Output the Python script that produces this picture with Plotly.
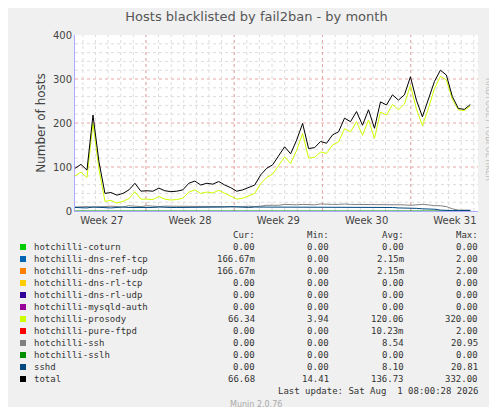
import pandas as pd
import plotly.graph_objects as go

total = [97, 106, 93, 218, 112, 40, 42, 36, 40, 48, 63, 45, 46, 45, 52, 46, 44, 45, 48, 63,
         68, 59, 63, 61, 67, 59, 53, 45, 48, 53, 59, 82, 97, 105, 127, 146, 130, 161, 199, 142,
         144, 158, 154, 173, 180, 211, 203, 226, 195, 230, 188, 248, 241, 264, 252, 264, 305, 252, 214, 252,
         294, 320, 309, 260, 233, 231, 242]
prosody = [80, 88, 76, 200, 95, 22, 24, 18, 22, 28, 44, 27, 27, 26, 33, 27, 25, 26, 29, 43,
           48, 40, 43, 41, 47, 40, 34, 27, 29, 34, 40, 62, 76, 84, 105, 123, 108, 138, 176, 120,
           122, 134, 131, 150, 157, 187, 180, 203, 172, 207, 165, 225, 218, 242, 230, 243, 286, 232, 194, 233,
           278, 306, 298, 254, 230, 228, 239]
sshd = [8, 8, 7, 9, 8, 8, 7, 8, 9, 8, 8, 8, 7, 8, 9, 8, 8, 8, 8, 9,
        9, 8, 9, 9, 9, 9, 10, 9, 9, 8, 9, 9, 8, 8, 9, 8, 8, 9, 8, 8,
        8, 8, 8, 8, 8, 8, 8, 8, 8, 8, 8, 8, 8, 8, 7, 7, 6, 6, 5, 5,
        4, 2, 1, 1, 1, 1, 1]
ssh = [9, 10, 10, 9, 9, 10, 11, 10, 9, 12, 11, 10, 12, 11, 10, 11, 11, 11, 11, 11,
       11, 11, 11, 11, 11, 10, 9, 9, 10, 11, 10, 11, 13, 13, 13, 15, 14, 14, 15, 14,
       14, 16, 15, 15, 15, 16, 15, 15, 15, 15, 15, 15, 15, 14, 15, 14, 13, 14, 15, 14,
       12, 12, 10, 5, 2, 2, 2]

names = ["hotchilli-coturn", "hotchilli-dns-ref-tcp", "hotchilli-dns-ref-udp", "hotchilli-dns-rl-tcp",
         "hotchilli-dns-rl-udp", "hotchilli-mysqld-auth", "hotchilli-prosody", "hotchilli-pure-ftpd",
         "hotchilli-ssh", "hotchilli-sslh", "sshd", "total"]
colors = ["#00CC00", "#0066B3", "#FF8000", "#FFCC00", "#330099", "#990099", "#CCFF00", "#FF0000",
          "#808080", "#008F00", "#00487D", "#000000"]
cur = ["0.00", "166.67m", "166.67m", "0.00", "0.00", "0.00", "66.34", "0.00", "0.00", "0.00", "0.00", "66.68"]
mins = ["0.00", "0.00", "0.00", "0.00", "0.00", "0.00", "3.94", "0.00", "0.00", "0.00", "0.00", "14.41"]
avgs = ["0.00", "2.15m", "2.15m", "0.00", "0.00", "0.00", "120.06", "10.23m", "8.54", "0.00", "8.10", "136.73"]
maxs = ["0.00", "2.00", "2.00", "0.00", "0.00", "0.00", "320.00", "2.00", "20.95", "0.00", "20.81", "332.00"]
week_labels = ["Week 27", "Week 28", "Week 29", "Week 30", "Week 31"]

t = pd.date_range("2026-06-30 09:00", periods=len(total), freq="684min")
zero = [0] * len(total)

fig = go.Figure()
for s, c in [(zero, "#008F00"), (ssh, "#808080"), (sshd, "#00487D"), (prosody, "#CCFF00"), (total, "#000000")]:
    fig.add_trace(go.Scatter(x=t, y=s, mode="lines", line=dict(color=c, width=1), showlegend=False))

mondays = pd.date_range("2026-06-29", periods=6, freq="7D")
for d in pd.date_range("2026-07-01", "2026-08-01", freq="1D"):
    fig.add_shape(type="line", x0=d, x1=d, y0=0, y1=400, xref="x", yref="y",
                  line=dict(color="#DDDDDD", width=1, dash="dot"), layer="below")
for d in mondays[1:5]:
    fig.add_shape(type="line", x0=d, x1=d, y0=0, y1=400, xref="x", yref="y",
                  line=dict(color="#EBA5A5", width=1, dash="dot"), layer="below")
for v in range(20, 400, 20):
    c = "#EBA5A5" if v % 100 == 0 else "#DDDDDD"
    fig.add_shape(type="line", x0=0, x1=1, y0=v, y1=v, xref="paper", yref="y",
                  line=dict(color=c, width=1, dash="dot"), layer="below")

mono = dict(family="DejaVu Sans Mono", size=9, color="#333333")
def txt(x, y, s, anchor="left", font=mono):
    fig.add_annotation(x=x, y=y, xref="paper", yref="paper", text=s, showarrow=False,
                       xanchor=anchor, yanchor="middle", font=font)

def px(x, y):
    return (x - 67) / 403, (203 - y) / 176

for i, n in enumerate(names):
    yy = 239 + 12 * i
    fig.add_shape(type="rect", x0=px(12, yy - 3)[0], x1=px(18, yy + 3)[0], y0=px(12, yy - 3)[1],
                  y1=px(12, yy + 3)[1], xref="paper", yref="paper", fillcolor=colors[i],
                  line=dict(width=0))
    txt(*px(24, yy), n)
    for col, xr in [(cur, 249), (mins, 323), (avgs, 398), (maxs, 472)]:
        txt(*px(xr, yy), col[i], "right")
for h, xr in [("Cur:", 249), ("Min:", 323), ("Avg:", 398), ("Max:", 472)]:
    txt(*px(xr, 227), h, "right")
txt(*px(472, 383), "Last update: Sat Aug  1 08:00:28 2026", "right")
txt(*px(248, 396), "Munin 2.0.76", "center", dict(family="DejaVu Sans", size=8, color="#AAAAAA"))
fig.add_annotation(x=px(487, 0)[0], y=px(0, 68)[1], xref="paper", yref="paper",
                   text="RRDTOOL / TOBI OETIKER", textangle=90, showarrow=False,
                   font=dict(family="DejaVu Sans", size=8, color="#BBBBBB"))

fig.update_layout(
    width=497, height=407, margin=dict(l=67, r=27, t=27, b=204, autoexpand=False),
    paper_bgcolor="#F0F0F0", plot_bgcolor="#FFFFFF",
    title=dict(text="Hosts blacklisted by fail2ban - by month", x=0.5, y=0.99, yanchor="top",
               font=dict(family="DejaVu Sans", size=13, color="#555555")),
    font=dict(family="DejaVu Sans", size=10, color="#444444"),
    xaxis=dict(range=["2026-06-30 09:00", "2026-08-01 08:00"], showgrid=False, zeroline=False,
               tickvals=mondays[:5] + pd.Timedelta("3.5D"), ticktext=week_labels, ticks="",
               showline=True, linecolor="#AAAAFF", automargin=False),
    yaxis=dict(range=[0, 400], tickvals=[0, 100, 200, 300, 400], showgrid=False, zeroline=False,
               title=dict(text="Number of hosts", standoff=4), showline=True, linecolor="#AAAAFF",
               ticks="", automargin=False),
)
fig.write_html("out.html")
